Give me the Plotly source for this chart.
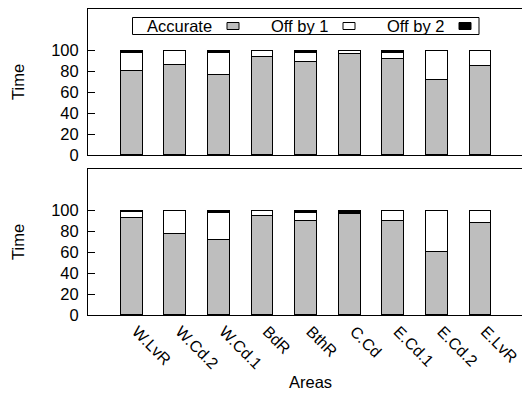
import plotly.graph_objects as go

areas = ["W.LvR", "W.Cd.2", "W.Cd.1", "BdR", "BthR", "C.Cd", "E.Cd.1", "E.Cd.2", "E.LvR"]
series_names = ["Accurate", "Off by 1", "Off by 2"]

top_accurate = [81, 86, 77, 93.5, 89, 97, 92, 72, 85.5]
top_off1 = [17, 14, 21, 6.5, 9, 2.5, 6, 28, 14.5]
top_off2 = [2, 0, 2, 0, 2, 0.5, 2, 0, 0]

bot_accurate = [93.3, 77.5, 72, 95, 90.5, 96.5, 90.5, 60, 88]
bot_off1 = [5, 22.5, 26, 5, 7.5, 1.5, 9.5, 40, 12]
bot_off2 = [1.7, 0, 2, 0, 2, 2, 0, 0, 0]

yticks = [0, 20, 40, 60, 80, 100]
x_title = "Areas"
y_title = "Time"

colors = ["#bebebe", "#ffffff", "#000000"]
FONT = "Liberation Sans, Arial, sans-serif"
FS = 16.5
OFF = 8  # page body margin offset
W, H = 530 - OFF, 394 - OFF
ML, MR, MT, MB = 88 - OFF, 0, 9 - OFF, 394 - 315

fig = go.Figure()
for vals, xa, ya in [
    ((top_accurate, top_off1, top_off2), "x", "y"),
    ((bot_accurate, bot_off1, bot_off2), "x2", "y2"),
]:
    for name, v, c in zip(series_names, vals, colors):
        fig.add_trace(go.Bar(
            x=areas, y=v, name=name, xaxis=xa, yaxis=ya,
            marker=dict(color=c, line=dict(color="black", width=1)),
            width=0.5, showlegend=False,
        ))

pw = W - ML - MR
ph = H - MT - MB
# page pixel -> paper fraction
def px(x):
    return (x - OFF - ML) / pw

def py(y):
    return (H - MB - (y - OFF)) / ph

top_dom = [py(155), 1.0]
bot_dom = [0.0, py(169)]
xr = [-1, -1 + pw / 43.6]

common_y = dict(range=[0, 140], tickvals=yticks, ticks="inside", ticklen=7,
                showline=True, linecolor="black", linewidth=1, showgrid=False,
                zeroline=False, tickcolor="black", automargin=False,
                ticklabelstandoff=5,
                tickfont=dict(family=FONT, size=FS, color="black"))
common_x = dict(range=xr, showline=True, linecolor="black", linewidth=1, mirror=True,
                showgrid=False, zeroline=False, ticks="", automargin=False)
right_y = dict(range=[0, 140], tickvals=yticks, ticks="inside", ticklen=7, tickcolor="black",
               showticklabels=False, showline=False, showgrid=False, zeroline=False,
               side="right", automargin=False)

fig.update_layout(
    width=W, height=H, margin=dict(l=ML, r=MR, t=MT, b=MB, autoexpand=False),
    paper_bgcolor="white", plot_bgcolor="white", barmode="stack", bargap=0,
    font=dict(family=FONT, size=FS, color="black"),
    xaxis=dict(**common_x, anchor="y", showticklabels=False),
    yaxis=dict(**common_y, domain=top_dom, anchor="x"),
    xaxis2=dict(**common_x, anchor="y2", showticklabels=True, tickangle=45,
                ticklabelshift=5,
                tickfont=dict(family=FONT, size=16, color="black")),
    yaxis2=dict(**common_y, domain=bot_dom, anchor="x2"),
    yaxis3=dict(**right_y, overlaying="y", anchor="x"),
    yaxis4=dict(**right_y, overlaying="y2", anchor="x2"),
)

# axis titles
for yc in (82, 242):
    fig.add_annotation(xref="paper", yref="paper", x=px(18), y=py(yc), text=y_title,
                       textangle=-90, showarrow=False, xanchor="center", yanchor="middle",
                       font=dict(family=FONT, size=FS, color="black"))
fig.add_annotation(xref="paper", yref="paper", x=px(310), y=py(382), text=x_title,
                   showarrow=False, xanchor="center", yanchor="middle",
                   font=dict(family=FONT, size=FS, color="black"))

# key box (gnuplot style: text then sample)
fig.add_shape(type="rect", xref="paper", yref="paper",
              x0=px(132.5), x1=px(479), y0=py(34.5), y1=py(17.5),
              line=dict(color="black", width=1), fillcolor="white")
text_right = [214, 330, 446]
for name, c, xr_ in zip(series_names, colors, text_right):
    fig.add_annotation(xref="paper", yref="paper", x=px(xr_), y=py(26), text=name,
                       showarrow=False, xanchor="right", yanchor="middle",
                       font=dict(family=FONT, size=FS, color="black"))
    fig.add_shape(type="rect", xref="paper", yref="paper",
                  x0=px(xr_ + 13), x1=px(xr_ + 25), y0=py(29.5), y1=py(22.5),
                  line=dict(color="black", width=1), fillcolor=c)

fig.write_html("out.html")
